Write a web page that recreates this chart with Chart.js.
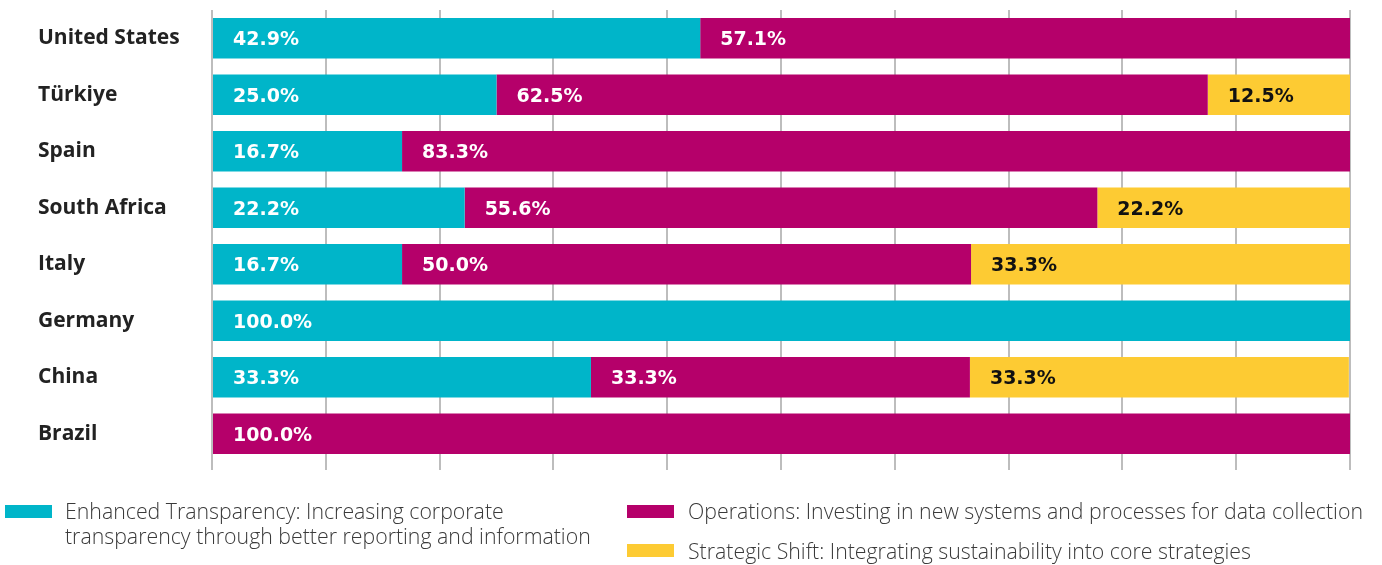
<!DOCTYPE html>
<html>
<head>
<meta charset="utf-8">
<script src="https://cdn.jsdelivr.net/npm/chart.js@4/dist/chart.umd.min.js"></script>
<style>
  html, body { margin: 0; padding: 0; background: #fff; }
  #wrap { position: relative; width: 1382px; height: 565px; }
  canvas { position: absolute; left: 0; top: 0; }
  .sw { position: absolute; width: 47px; height: 13px; }
  .lt { position: absolute; font-family: "Open Sans", sans-serif; font-weight: 300; font-size: 21.3px; color: #3a3a3a; line-height: 25px; white-space: nowrap; }
</style>
</head>
<body>
<div id="wrap">
  <canvas id="c" width="1382" height="565"></canvas>
  <div class="sw" style="left:5px;top:505px;background:#00B5C9"></div>
  <div class="lt" style="left:65px;top:498px">Enhanced Transparency: Increasing corporate<br>transparency through better reporting and information</div>
  <div class="sw" style="left:627px;top:505px;background:#B5006A"></div>
  <div class="lt" style="left:688px;top:498px">Operations: Investing in new systems and processes for data collection</div>
  <div class="sw" style="left:627px;top:544px;background:#FDCB33"></div>
  <div class="lt" style="left:688px;top:538px">Strategic Shift: Integrating sustainability into core strategies</div>
</div>
<script>
const categories = ["United States", "Türkiye", "Spain", "South Africa", "Italy", "Germany", "China", "Brazil"];
const seriesNames = [
  "Enhanced Transparency: Increasing corporate transparency through better reporting and information",
  "Operations: Investing in new systems and processes for data collection",
  "Strategic Shift: Integrating sustainability into core strategies"
];
const transparency = [42.9, 25.0, 16.7, 22.2, 16.7, 100.0, 33.3, 0];
const operations   = [57.1, 62.5, 83.3, 55.6, 50.0, 0, 33.3, 100.0];
const strategic    = [0, 12.5, 0, 22.2, 33.3, 0, 33.3, 0];
const xTicks = [0, 10, 20, 30, 40, 50, 60, 70, 80, 90, 100];

const colors = ["#00B5C9", "#B5006A", "#FDCB33"];
const labelColors = ["#ffffff", "#ffffff", "#111111"];

const labelPlugin = {
  id: "segLabels",
  afterDatasetsDraw(chart) {
    const ctx = chart.ctx;
    ctx.save();
    ctx.font = "bold 19px 'DejaVu Sans', sans-serif";
    ctx.textAlign = "left";
    ctx.textBaseline = "middle";
    chart.data.datasets.forEach((ds, di) => {
      const meta = chart.getDatasetMeta(di);
      meta.data.forEach((el, i) => {
        const v = ds.data[i];
        if (!v) return;
        const left = Math.min(el.base, el.x);
        ctx.fillStyle = labelColors[di];
        ctx.fillText(v.toFixed(1) + "%", left + 20, el.y + 2);
      });
    });
    ctx.restore();
  }
};

new Chart(document.getElementById("c"), {
  type: "bar",
  data: {
    labels: categories,
    datasets: [
      { label: seriesNames[0], data: transparency, backgroundColor: colors[0] },
      { label: seriesNames[1], data: operations, backgroundColor: colors[1] },
      { label: seriesNames[2], data: strategic, backgroundColor: colors[2] }
    ]
  },
  options: {
    indexAxis: "y",
    responsive: false,
    animation: false,
    barPercentage: 0.72,
    categoryPercentage: 1.0,
    layout: { padding: { left: 38, right: 32, top: 10, bottom: 95 } },
    plugins: { legend: { display: false }, tooltip: { enabled: false } },
    scales: {
      x: {
        stacked: true,
        min: 0, max: 100,
        afterBuildTicks: (s) => { s.ticks = xTicks.map(v => ({ value: v })); },
        grid: { color: "#bdbdbd", lineWidth: 2, tickLength: 8, drawTicks: true },
        border: { display: false },
        ticks: { display: false }
      },
      y: {
        stacked: true,
        afterFit: (s) => { s.width = 174; s.paddingTop = 0; s.paddingBottom = 0; },
        grid: { display: false },
        border: { display: false },
        ticks: {
          crossAlign: "far",
          color: "#222",
          font: { family: "'Open Sans', sans-serif", size: 21, weight: "bold" }
        }
      }
    }
  },
  plugins: [labelPlugin]
});
</script>
</body>
</html>
